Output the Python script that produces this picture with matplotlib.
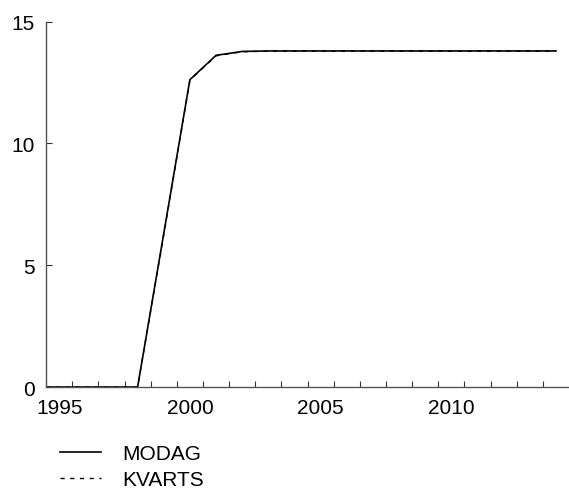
import numpy as np
import matplotlib
matplotlib.use("Agg")
import matplotlib.pyplot as plt
from matplotlib.ticker import FixedLocator, NullFormatter

plt.rcParams['font.family'] = ['Liberation Sans', 'DejaVu Sans']

# data: annual values, plotted at mid-year (first point at the start of 1995)
x_pos = [1995.0, 1995.5, 1996.5, 1997.5, 1998.5, 1999.5, 2000.5, 2001.5, 2002.5,
         2003.5, 2004.5, 2005.5, 2006.5, 2007.5, 2008.5, 2009.5, 2010.5,
         2011.5, 2012.5, 2013.5, 2014.5]
modag = [0, 0, 0, 0, 0, 6.3, 12.62, 13.62, 13.78,
         13.8, 13.8, 13.8, 13.8, 13.8, 13.8, 13.8, 13.8,
         13.8, 13.8, 13.8, 13.8]
kvarts = [0, 0, 0, 0, 0, 6.25, 12.6, 13.6, 13.77,
          13.79, 13.79, 13.79, 13.79, 13.79, 13.79, 13.79, 13.79,
          13.79, 13.79, 13.79, 13.79]
year_labels = ['1995', '2000', '2005', '2010']
y_ticks = [0, 5, 10, 15]

fs = 15

fig = plt.figure(figsize=(5.69, 4.89), dpi=100)
ax = fig.add_axes([0.081, 0.2065, 0.919, 0.747])

ax.plot(x_pos, modag, color='black', lw=1.2, label='MODAG')
ax.plot(x_pos, kvarts, color='black', lw=1.0, linestyle=(0, (3, 4)), label='KVARTS')

ax.set_xlim(1995, 2015)
ax.set_ylim(0, 15)

for s in ['top', 'right']:
    ax.spines[s].set_visible(False)
for s in ['left', 'bottom']:
    ax.spines[s].set_color('#555555')
    ax.spines[s].set_linewidth(1.0)

# year ticks at year starts, labels at mid-year
ax.xaxis.set_major_locator(FixedLocator(np.arange(1995, 2015)))
ax.xaxis.set_major_formatter(NullFormatter())
ax.xaxis.set_minor_locator(FixedLocator([int(y) + 0.5 for y in year_labels]))
ax.set_xticklabels(year_labels, minor=True)
ax.tick_params(axis='x', which='major', direction='in', length=4, color='#333333')
ax.tick_params(axis='x', which='minor', length=0, pad=8, labelsize=fs)

ax.set_yticks(y_ticks)
ax.set_yticklabels([str(v) for v in y_ticks])
ax.tick_params(axis='y', direction='in', length=4, color='#333333', pad=8, labelsize=fs)

fig.legend(loc='upper left', bbox_to_anchor=(0.105, 0.09), frameon=False,
           fontsize=fs, handlelength=2.0, handletextpad=1.0, labelspacing=0.35,
           borderaxespad=0, borderpad=0)

fig.savefig('out.png', dpi=100)
